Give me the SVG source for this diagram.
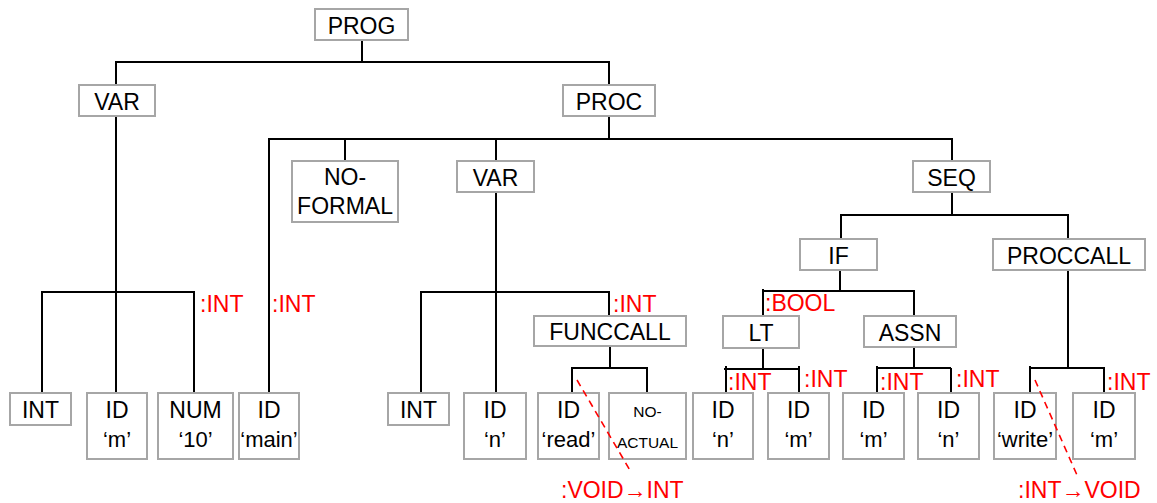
<svg xmlns="http://www.w3.org/2000/svg" width="1157" height="503" viewBox="0 0 1157 503">
<style>
.box{fill:#fff;stroke:#a6a6a6;stroke-width:2}
.t{font-family:"Liberation Sans",Arial,sans-serif;font-size:23px;fill:#000;text-anchor:middle}
.t2{font-family:"Liberation Sans",Arial,sans-serif;font-size:22px;fill:#000;text-anchor:middle}
.ts{font-family:"Liberation Sans",Arial,sans-serif;font-size:15.5px;fill:#000;text-anchor:middle}
.r{font-family:"Liberation Sans",Arial,sans-serif;font-size:23px;fill:#ff0000}
.c{fill:none;stroke:#000;stroke-width:2}
.d{fill:none;stroke:#ff0000;stroke-width:1.6;stroke-dasharray:7 5}
</style>
<rect width="1157" height="503" fill="#fff"/>
<g id="connectors">
<path class="c" d="M362 40V62M116 85V62H609V85"/>
<path class="c" d="M116 116V393M42 393V292H194V393"/>
<path class="c" d="M609 116V139M269 393V139H952V161M345 139V161M496 139V161"/>
<path class="c" d="M496 192V393M421 393V292H609V316"/>
<path class="c" d="M610 346V368M572 393V368H647V393"/>
<path class="c" d="M952 192V215M841 239V215H1068V239"/>
<path class="c" d="M840 270V291M763 316V289M763 291H914V316"/>
<path class="c" d="M763 348V369M724 369H798M726 366V393M799 366V393"/>
<path class="c" d="M914 347V368M876 368H951M877 366V393M951 368V393"/>
<path class="c" d="M1068 270V368M1030 366V393M1030 368H1104V393"/>
</g>
<g id="n-prog"><rect class="box" x="315" y="9" width="93" height="31"/><text class="t" x="361.5" y="33.5">PROG</text></g>
<g id="n-var1"><rect class="box" x="79" y="85" width="76" height="31"/><text class="t" x="117" y="109.5">VAR</text></g>
<g id="n-proc"><rect class="box" x="563" y="85" width="92" height="31"/><text class="t" x="609" y="109.5">PROC</text></g>
<g id="n-noformal"><rect class="box" x="292" y="161" width="106" height="61"/><text class="t" x="345" y="185">NO-</text><text class="t" x="345" y="214">FORMAL</text></g>
<g id="n-var2"><rect class="box" x="457" y="161" width="77" height="31"/><text class="t" x="495.5" y="185.5">VAR</text></g>
<g id="n-seq"><rect class="box" x="913" y="161" width="77" height="31"/><text class="t" x="951.5" y="185.5">SEQ</text></g>
<g id="n-if"><rect class="box" x="800" y="239" width="77" height="31"/><text class="t" x="838.5" y="263.5">IF</text></g>
<g id="n-proccall"><rect class="box" x="993" y="239" width="152" height="31"/><text class="t" x="1069" y="263.5">PROCCALL</text></g>
<g id="n-funccall"><rect class="box" x="534" y="316" width="152" height="30"/><text class="t" x="610" y="340">FUNCCALL</text></g>
<g id="n-lt"><rect class="box" x="723" y="316" width="76" height="32"/><text class="t" x="761" y="340.5">LT</text></g>
<g id="n-assn"><rect class="box" x="864" y="316" width="92" height="31"/><text class="t" x="910" y="340.5">ASSN</text></g>
<g id="n-int1"><rect class="box" x="10" y="393" width="61" height="32"/><text class="t" x="40.5" y="417.5">INT</text></g>
<g id="n-id-m1"><rect class="box" x="87" y="393" width="60" height="66"/><text class="t" x="117" y="418">ID</text><text class="t2" x="117" y="447">‘m’</text></g>
<g id="n-num10"><rect class="box" x="158" y="393" width="75" height="66"/><text class="t" x="195.5" y="418">NUM</text><text class="t2" x="195.5" y="447">‘10’</text></g>
<g id="n-id-main"><rect class="box" x="239" y="393" width="60" height="66"/><text class="t" x="269" y="418">ID</text><text class="t2" x="269" y="447">‘main’</text></g>
<g id="n-int2"><rect class="box" x="388" y="393" width="61" height="32"/><text class="t" x="418.5" y="417.5">INT</text></g>
<g id="n-id-n1"><rect class="box" x="464" y="393" width="62" height="66"/><text class="t" x="495" y="418">ID</text><text class="t2" x="495" y="447">‘n’</text></g>
<g id="n-id-read"><rect class="box" x="538" y="393" width="61" height="66"/><text class="t" x="568.5" y="418">ID</text><text class="t2" x="568.5" y="447">‘read’</text></g>
<g id="n-noactual"><rect class="box" x="609" y="393" width="77" height="66"/><text class="ts" x="647.5" y="417">NO-</text><text class="ts" x="647.5" y="448">ACTUAL</text></g>
<g id="n-id-n2"><rect class="box" x="693" y="393" width="60" height="66"/><text class="t" x="723" y="418">ID</text><text class="t2" x="723" y="447">‘n’</text></g>
<g id="n-id-m2"><rect class="box" x="768" y="393" width="61" height="66"/><text class="t" x="798.5" y="418">ID</text><text class="t2" x="798.5" y="447">‘m’</text></g>
<g id="n-id-m3"><rect class="box" x="843" y="393" width="61" height="66"/><text class="t" x="873.5" y="418">ID</text><text class="t2" x="873.5" y="447">‘m’</text></g>
<g id="n-id-n3"><rect class="box" x="918" y="393" width="61" height="66"/><text class="t" x="948.5" y="418">ID</text><text class="t2" x="948.5" y="447">‘n’</text></g>
<g id="n-id-write"><rect class="box" x="994" y="393" width="62" height="66"/><text class="t" x="1025" y="418">ID</text><text class="t2" x="1025" y="447">‘write’</text></g>
<g id="n-id-m4"><rect class="box" x="1073" y="393" width="62" height="66"/><text class="t" x="1104" y="418">ID</text><text class="t2" x="1104" y="447">‘m’</text></g>
<g id="type-links">
<path class="d" d="M577 380L631 472"/>
<path class="d" d="M1035 380L1077 475"/>
</g>
<g id="types">
<text class="r" x="200" y="312">:INT</text>
<text class="r" x="272" y="312">:INT</text>
<text class="r" x="613" y="312">:INT</text>
<text class="r" x="765" y="311">:BOOL</text>
<text class="r" x="728" y="390">:INT</text>
<text class="r" x="804" y="387">:INT</text>
<text class="r" x="880" y="390">:INT</text>
<text class="r" x="956" y="387">:INT</text>
<text class="r" x="1107" y="390">:INT</text>
<text class="r" x="561" y="498">:VOID→INT</text>
<text class="r" x="1018" y="498">:INT→VOID</text>
</g>
</svg>
